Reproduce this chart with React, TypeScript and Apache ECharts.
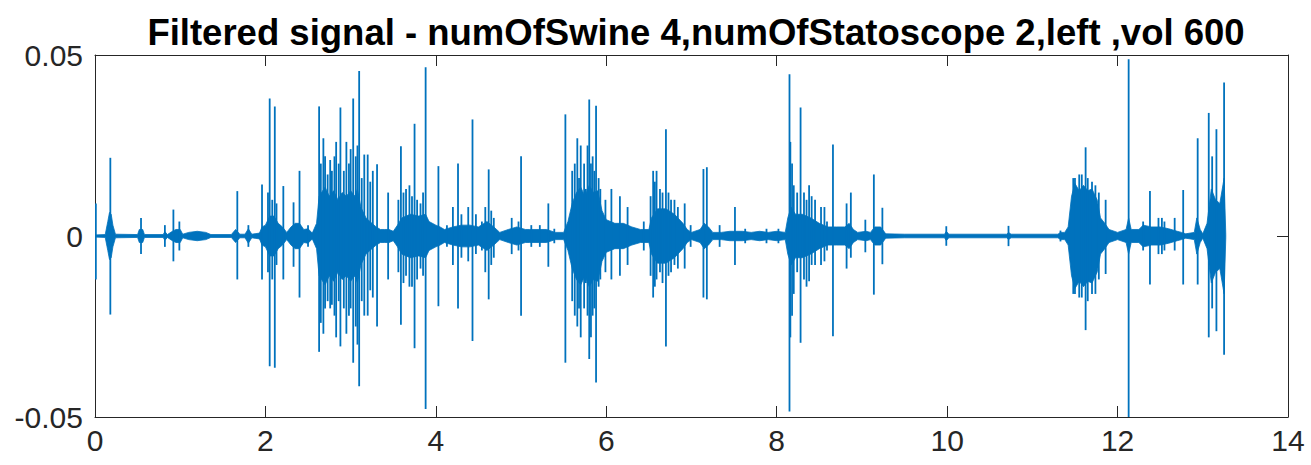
import React, { useEffect, useRef } from "react";
import * as echarts from "echarts";

const titleText = "Filtered signal - numOfSwine 4,numOfStatoscope 2,left ,vol 600";
const xTicks = [0, 2, 4, 6, 8, 10, 12, 14];
const yTicks = [-0.05, 0, 0.05];

// individual spikes: time (s), upper peak, lower peak
const spikeTimes = [0.01, 0.18, 0.54, 0.82, 0.92, 0.99, 1.67, 1.8, 1.96, 2.03, 2.05, 2.08, 2.11, 2.13, 2.21, 2.33, 2.4, 2.5, 2.63, 2.65, 2.68, 2.7, 2.73, 2.76, 2.78, 2.81, 2.83, 2.86, 2.88, 2.92, 2.95, 2.98, 3.0, 3.03, 3.06, 3.08, 3.1, 3.13, 3.16, 3.2, 3.23, 3.26, 3.31, 3.44, 3.56, 3.59, 3.62, 3.65, 3.69, 3.72, 3.75, 3.78, 3.82, 3.85, 3.88, 4.03, 4.13, 4.2, 4.26, 4.3, 4.38, 4.43, 4.47, 4.54, 4.58, 4.62, 4.65, 4.68, 4.89, 4.97, 5.0, 5.12, 5.22, 5.32, 5.39, 5.52, 5.6, 5.63, 5.66, 5.68, 5.7, 5.74, 5.76, 5.78, 5.8, 5.82, 5.84, 5.86, 5.88, 5.91, 5.93, 5.99, 6.06, 6.16, 6.25, 6.44, 6.52, 6.55, 6.57, 6.59, 6.63, 6.66, 6.7, 6.73, 6.76, 6.8, 6.84, 6.92, 6.99, 7.14, 7.18, 7.33, 7.51, 7.63, 7.88, 8.02, 8.15, 8.16, 8.18, 8.2, 8.24, 8.28, 8.32, 8.35, 8.38, 8.41, 8.45, 8.52, 8.56, 8.59, 8.66, 8.82, 8.87, 9.04, 9.14, 9.24, 9.99, 10.72, 11.33, 11.48, 11.5, 11.55, 11.58, 11.625, 11.65, 11.7, 11.74, 11.78, 11.86, 12.13, 12.3, 12.38, 12.48, 12.52, 12.55, 12.67, 12.77, 12.94, 13.07, 13.11, 13.16, 13.25];
const spikeHigh = [0.009, 0.0216, 0.005, 0.003, 0.0073, 0.004, 0.0124, 0.003, 0.0142, 0.012, 0.038, 0.01, 0.0358, 0.009, 0.0138, 0.0093, 0.018, 0.003, 0.0358, 0.02, 0.027, 0.022, 0.017, 0.021, 0.018, 0.022, 0.026, 0.02, 0.0355, 0.018, 0.026, 0.02, 0.024, 0.038, 0.022, 0.025, 0.0456, 0.016, 0.0225, 0.0225, 0.015, 0.018, 0.0198, 0.012, 0.01, 0.0248, 0.012, 0.013, 0.014, 0.011, 0.031, 0.01, 0.009, 0.012, 0.0466, 0.0193, 0.003, 0.008, 0.02, 0.006, 0.008, 0.0322, 0.006, 0.004, 0.008, 0.0184, 0.007, 0.005, 0.005, 0.004, 0.022, 0.003, 0.003, 0.009, 0.002, 0.0336, 0.018, 0.02, 0.027, 0.016, 0.025, 0.02, 0.013, 0.025, 0.0377, 0.02, 0.022, 0.018, 0.036, 0.016, 0.013, 0.01, 0.013, 0.011, 0.008, 0.004, 0.011, 0.018, 0.015, 0.018, 0.013, 0.012, 0.0295, 0.012, 0.01, 0.01, 0.008, 0.009, 0.003, 0.0185, 0.019, 0.003, 0.008, 0.002, 0.002, 0.002, 0.0447, 0.026, 0.02, 0.014, 0.012, 0.0355, 0.012, 0.01, 0.014, 0.011, 0.01, 0.008, 0.008, 0.004, 0.0253, 0.009, 0.012, 0.0045, 0.017, 0.0078, 0.0027, 0.0028, 0.0015, 0.016, 0.016, 0.017, 0.017, 0.0245, 0.016, 0.015, 0.014, 0.012, 0.01, 0.0488, 0.004, 0.0124, 0.005, 0.005, 0.004, 0.005, 0.0127, 0.027, 0.034, 0.022, 0.0295, 0.0424];
const spikeLow = [-0.012, -0.0217, -0.005, -0.003, -0.007, -0.004, -0.012, -0.003, -0.012, -0.01, -0.036, -0.012, -0.0364, -0.008, -0.012, -0.0085, -0.017, -0.003, -0.032, -0.024, -0.027, -0.02, -0.018, -0.02, -0.019, -0.022, -0.028, -0.018, -0.0305, -0.02, -0.027, -0.022, -0.02, -0.035, -0.025, -0.03, -0.0415, -0.018, -0.022, -0.022, -0.015, -0.017, -0.025, -0.012, -0.01, -0.0245, -0.013, -0.011, -0.014, -0.014, -0.031, -0.012, -0.009, -0.011, -0.0478, -0.0194, -0.003, -0.008, -0.02, -0.006, -0.007, -0.029, -0.005, -0.004, -0.01, -0.0175, -0.008, -0.006, -0.005, -0.004, -0.022, -0.003, -0.003, -0.0085, -0.002, -0.035, -0.018, -0.022, -0.025, -0.02, -0.028, -0.02, -0.013, -0.022, -0.034, -0.028, -0.022, -0.02, -0.0405, -0.014, -0.012, -0.01, -0.012, -0.011, -0.008, -0.004, -0.011, -0.017, -0.014, -0.012, -0.01, -0.013, -0.0305, -0.011, -0.01, -0.008, -0.009, -0.009, -0.003, -0.017, -0.0175, -0.003, -0.008, -0.002, -0.002, -0.002, -0.0485, -0.028, -0.022, -0.016, -0.01, -0.0295, -0.012, -0.014, -0.0125, -0.008, -0.008, -0.008, -0.007, -0.004, -0.0277, -0.009, -0.006, -0.0045, -0.0162, -0.0078, -0.0027, -0.0028, -0.0015, -0.016, -0.016, -0.017, -0.017, -0.026, -0.018, -0.016, -0.016, -0.012, -0.0105, -0.05, -0.004, -0.0134, -0.005, -0.005, -0.004, -0.004, -0.0134, -0.0134, -0.028, -0.02, -0.0263, -0.0328];

// dense core envelope: time (s) and half-width of the solid band
const envTimes = [0, 0.12, 0.15, 0.17, 0.19, 0.21, 0.24, 0.5, 0.52, 0.56, 0.58, 0.8, 0.82, 0.85, 0.9, 0.95, 1.0, 1.03, 1.1, 1.2, 1.3, 1.36, 1.6, 1.65, 1.7, 1.76, 1.8, 1.84, 1.93, 1.96, 2.0, 2.05, 2.1, 2.15, 2.2, 2.25, 2.3, 2.35, 2.4, 2.45, 2.5, 2.55, 2.6, 2.63, 2.7, 2.75, 2.8, 2.85, 2.9, 2.95, 3.0, 3.05, 3.08, 3.12, 3.18, 3.25, 3.3, 3.35, 3.4, 3.45, 3.5, 3.55, 3.6, 3.7, 3.8, 3.88, 3.92, 4.0, 4.05, 4.1, 4.2, 4.3, 4.4, 4.5, 4.6, 4.68, 4.75, 4.85, 4.95, 5.05, 5.1, 5.2, 5.3, 5.4, 5.5, 5.55, 5.6, 5.65, 5.7, 5.75, 5.8, 5.85, 5.9, 5.95, 6.0, 6.1, 6.2, 6.3, 6.4, 6.5, 6.53, 6.6, 6.7, 6.8, 6.9, 6.95, 7.0, 7.1, 7.15, 7.2, 7.25, 7.35, 7.45, 7.6, 7.7, 7.8, 7.9, 8.0, 8.1, 8.13, 8.17, 8.22, 8.3, 8.4, 8.5, 8.6, 8.7, 8.8, 8.85, 8.9, 8.95, 9.05, 9.1, 9.15, 9.22, 9.28, 9.5, 9.97, 9.99, 10.02, 10.7, 10.72, 10.75, 11.3, 11.33, 11.38, 11.42, 11.46, 11.5, 11.55, 11.6, 11.65, 11.7, 11.76, 11.8, 11.85, 11.9, 12.0, 12.1, 12.13, 12.16, 12.25, 12.3, 12.4, 12.5, 12.6, 12.7, 12.75, 12.8, 12.9, 12.93, 12.97, 13.0, 13.05, 13.1, 13.15, 13.2, 13.25, 13.27];
const envAmp = [0.0003, 0.0004, 0.004, 0.0065, 0.006, 0.003, 0.0005, 0.0004, 0.0018, 0.0018, 0.0004, 0.0004, 0.0012, 0.0004, 0.0012, 0.0018, 0.0018, 0.0005, 0.001, 0.0013, 0.001, 0.0004, 0.0004, 0.0018, 0.0005, 0.0005, 0.002, 0.0005, 0.0008, 0.0025, 0.003, 0.0055, 0.0055, 0.0035, 0.0025, 0.001, 0.0025, 0.0035, 0.0035, 0.0018, 0.002, 0.0008, 0.0035, 0.011, 0.0135, 0.011, 0.0125, 0.01, 0.012, 0.011, 0.0125, 0.011, 0.013, 0.008, 0.005, 0.0035, 0.0025, 0.0018, 0.0018, 0.0018, 0.0013, 0.003, 0.005, 0.006, 0.0055, 0.006, 0.004, 0.003, 0.0025, 0.0018, 0.0025, 0.003, 0.003, 0.0025, 0.004, 0.0025, 0.001, 0.0018, 0.0025, 0.0018, 0.0018, 0.0018, 0.0018, 0.001, 0.001, 0.004, 0.009, 0.012, 0.0135, 0.011, 0.014, 0.012, 0.0125, 0.007, 0.0045, 0.0035, 0.0035, 0.0025, 0.0018, 0.0018, 0.005, 0.0075, 0.0075, 0.006, 0.0035, 0.0018, 0.001, 0.0018, 0.0035, 0.0025, 0.001, 0.001, 0.0013, 0.0013, 0.001, 0.0013, 0.001, 0.0013, 0.001, 0.005, 0.008, 0.006, 0.006, 0.005, 0.0035, 0.0025, 0.0025, 0.0025, 0.0035, 0.0018, 0.001, 0.0013, 0.001, 0.0025, 0.0025, 0.0006, 0.0005, 0.0005, 0.0013, 0.0005, 0.0005, 0.001, 0.0005, 0.0005, 0.001, 0.001, 0.0025, 0.011, 0.0145, 0.0125, 0.014, 0.0125, 0.013, 0.01, 0.005, 0.0035, 0.0018, 0.001, 0.0018, 0.005, 0.0018, 0.0018, 0.003, 0.0025, 0.0025, 0.002, 0.0013, 0.001, 0.0006, 0.001, 0.005, 0.0018, 0.0006, 0.0035, 0.013, 0.01, 0.009, 0.016, 0.0005];

const BLUE = "#0072BD";
const AXIS = "#262626";
const FONT = "Liberation Sans, Arial, sans-serif";

export default function App() {
  const ref = useRef<HTMLDivElement>(null);
  useEffect(() => {
    if (!ref.current) return;
    const chart = echarts.init(ref.current, undefined, { renderer: "svg" });

    const spikeData = spikeTimes.map((t, i) => [t, spikeHigh[i], spikeLow[i]]);
    const envData = envTimes.map((t, i) => [t, envAmp[i], -envAmp[i]]);

    const axisCommon = {
      type: "value" as const,
      splitLine: { show: false },
      axisLine: { show: true, onZero: false, lineStyle: { color: AXIS, width: 1 } },
      axisTick: { show: true, inside: true, length: 11, lineStyle: { color: AXIS, width: 1 } },
    };
    const labelStyle = { fontSize: 30, color: AXIS, fontFamily: FONT };

    chart.setOption({
      animation: false,
      backgroundColor: "#ffffff",
      title: {
        text: titleText,
        left: 691,
        top: 9,
        textAlign: "center",
        textStyle: { fontSize: 36.5, fontWeight: "bold", color: "#000", fontFamily: FONT },
      },
      grid: { left: 95, right: 23, top: 55, bottom: 48, containLabel: false },
      xAxis: [
        { ...axisCommon, position: "bottom", min: xTicks[0], max: xTicks[xTicks.length - 1], interval: 2,
          axisLabel: { ...labelStyle, margin: 8 } },
        { ...axisCommon, position: "top", min: xTicks[0], max: xTicks[xTicks.length - 1], interval: 2,
          axisLabel: { show: false } },
      ],
      yAxis: [
        { ...axisCommon, position: "left", min: yTicks[0], max: yTicks[yTicks.length - 1], interval: 0.05,
          axisLabel: { ...labelStyle, margin: 12 } },
        { ...axisCommon, position: "right", min: yTicks[0], max: yTicks[yTicks.length - 1], interval: 0.05,
          axisLabel: { show: false } },
      ],
      series: [
        {
          type: "custom",
          name: "core",
          xAxisIndex: 0,
          yAxisIndex: 0,
          clip: true,
          data: envData,
          encode: { x: 0, y: [1, 2] },
          renderItem: (params: any, api: any) => {
            if (params.dataIndex !== 0) return null;
            const upper = envData.map((d) => api.coord([d[0], d[1]]));
            const lower = envData.map((d) => api.coord([d[0], d[2]])).reverse();
            return {
              type: "polygon",
              shape: { points: upper.concat(lower) },
              style: { fill: BLUE, stroke: BLUE, lineWidth: 0.8 },
            };
          },
        },
        {
          type: "custom",
          name: "spikes",
          xAxisIndex: 0,
          yAxisIndex: 0,
          clip: true,
          data: spikeData,
          encode: { x: 0, y: [1, 2] },
          renderItem: (params: any, api: any) => {
            const p1 = api.coord([api.value(0), api.value(1)]);
            const p2 = api.coord([api.value(0), api.value(2)]);
            return {
              type: "line",
              shape: { x1: p1[0], y1: p1[1], x2: p2[0], y2: p2[1] },
              style: { stroke: BLUE, lineWidth: 1.8 },
            };
          },
        },
      ],
    });
    return () => chart.dispose();
  }, []);
  return (
    <div
      ref={ref}
      style={{ position: "fixed", left: 0, top: 0, width: 1311, height: 465, background: "#fff" }}
    />
  );
}
